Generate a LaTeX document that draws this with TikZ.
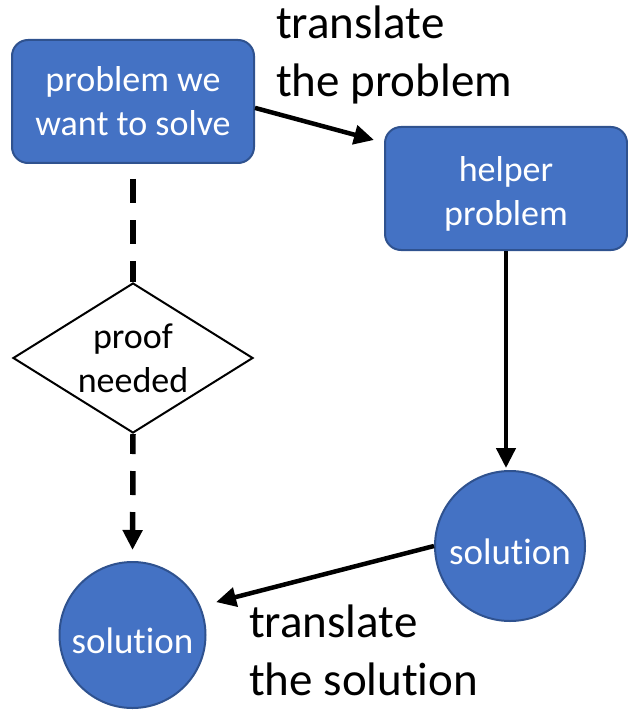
\documentclass[tikz,border=0pt]{standalone}
\usepackage{fontspec}
\setmainfont{Carlito}[Ligatures=NoCommon]
\usetikzlibrary{arrows.meta,shapes.geometric}

\definecolor{boxfill}{HTML}{4472C4}
\definecolor{boxline}{HTML}{2F528F}

\tikzset{
  bluebox/.style={draw=boxline, fill=boxfill, line width=2pt, rounded corners=16pt,
    minimum width=242pt, minimum height=123pt, inner sep=0pt, text=white,
    align=center, font=\fontsize{36}{44}\selectfont},
  bluecirc/.style={circle, draw=boxline, fill=boxfill, line width=2pt, inner sep=0pt,
    text=white, text height=36pt, text depth=0pt, font=\fontsize{37}{44}\selectfont},
  decision/.style={diamond, draw=black, fill=white, line width=2pt, inner sep=0pt,
    minimum width=240pt, minimum height=150pt},
  dectext/.style={align=center, inner sep=0pt, font=\fontsize{36}{44}\selectfont},
  steplabel/.style={align=left, inner sep=0pt, anchor=north west,
    font=\fontsize{47}{57.5}\selectfont},
  arr/.style={line width=4.5pt, -{Triangle[length=20pt,width=19pt]}},
  dline/.style={line width=5.5pt, dash pattern=on 24pt off 17pt},
}

\begin{document}
\begin{tikzpicture}[x=1pt, y=-1pt]
  \useasboundingbox (0,0) rectangle (628,714);

  % boxes
  \node[bluebox] (b1) at (133,101.5) {problem we\\want to solve};
  \node[bluebox] (b2) at (506,188.5) {\rule{0pt}{36pt}helper\\problem};

  % decision
  \node[decision] (d) at (133,358) {};
  \node[dectext] (dt) at (133,358) {proof\\needed};

  % solutions
  \node[bluecirc, minimum size=150pt] (c1) at (510,546) {solution};
  \node[bluecirc, minimum size=146pt] (c2) at (132.5,635) {solution};

  % labels
  \node[steplabel] (l1) at (276,6) {translate\\the problem};
  \node[steplabel] (l2) at (249,605) {translate\\the solution};

  % connectors
  \coordinate (t1) at (374,140);
  \draw[arr] (b1.-3.5) -- (t1);
  \draw[arr, shorten >=2pt] (b2.south) -- (b2.south |- c1.north);
  \draw[arr, shorten >=16pt] (c1.west) -- (c2.23);
  \draw[dline, shorten <=15pt] (b1.south) -- (d.north);
  \draw[dline, dash phase=4pt, shorten >=11pt, -{Triangle[length=20pt,width=19pt]}]
    (d.south) -- (c2.north);
\end{tikzpicture}
\end{document}
